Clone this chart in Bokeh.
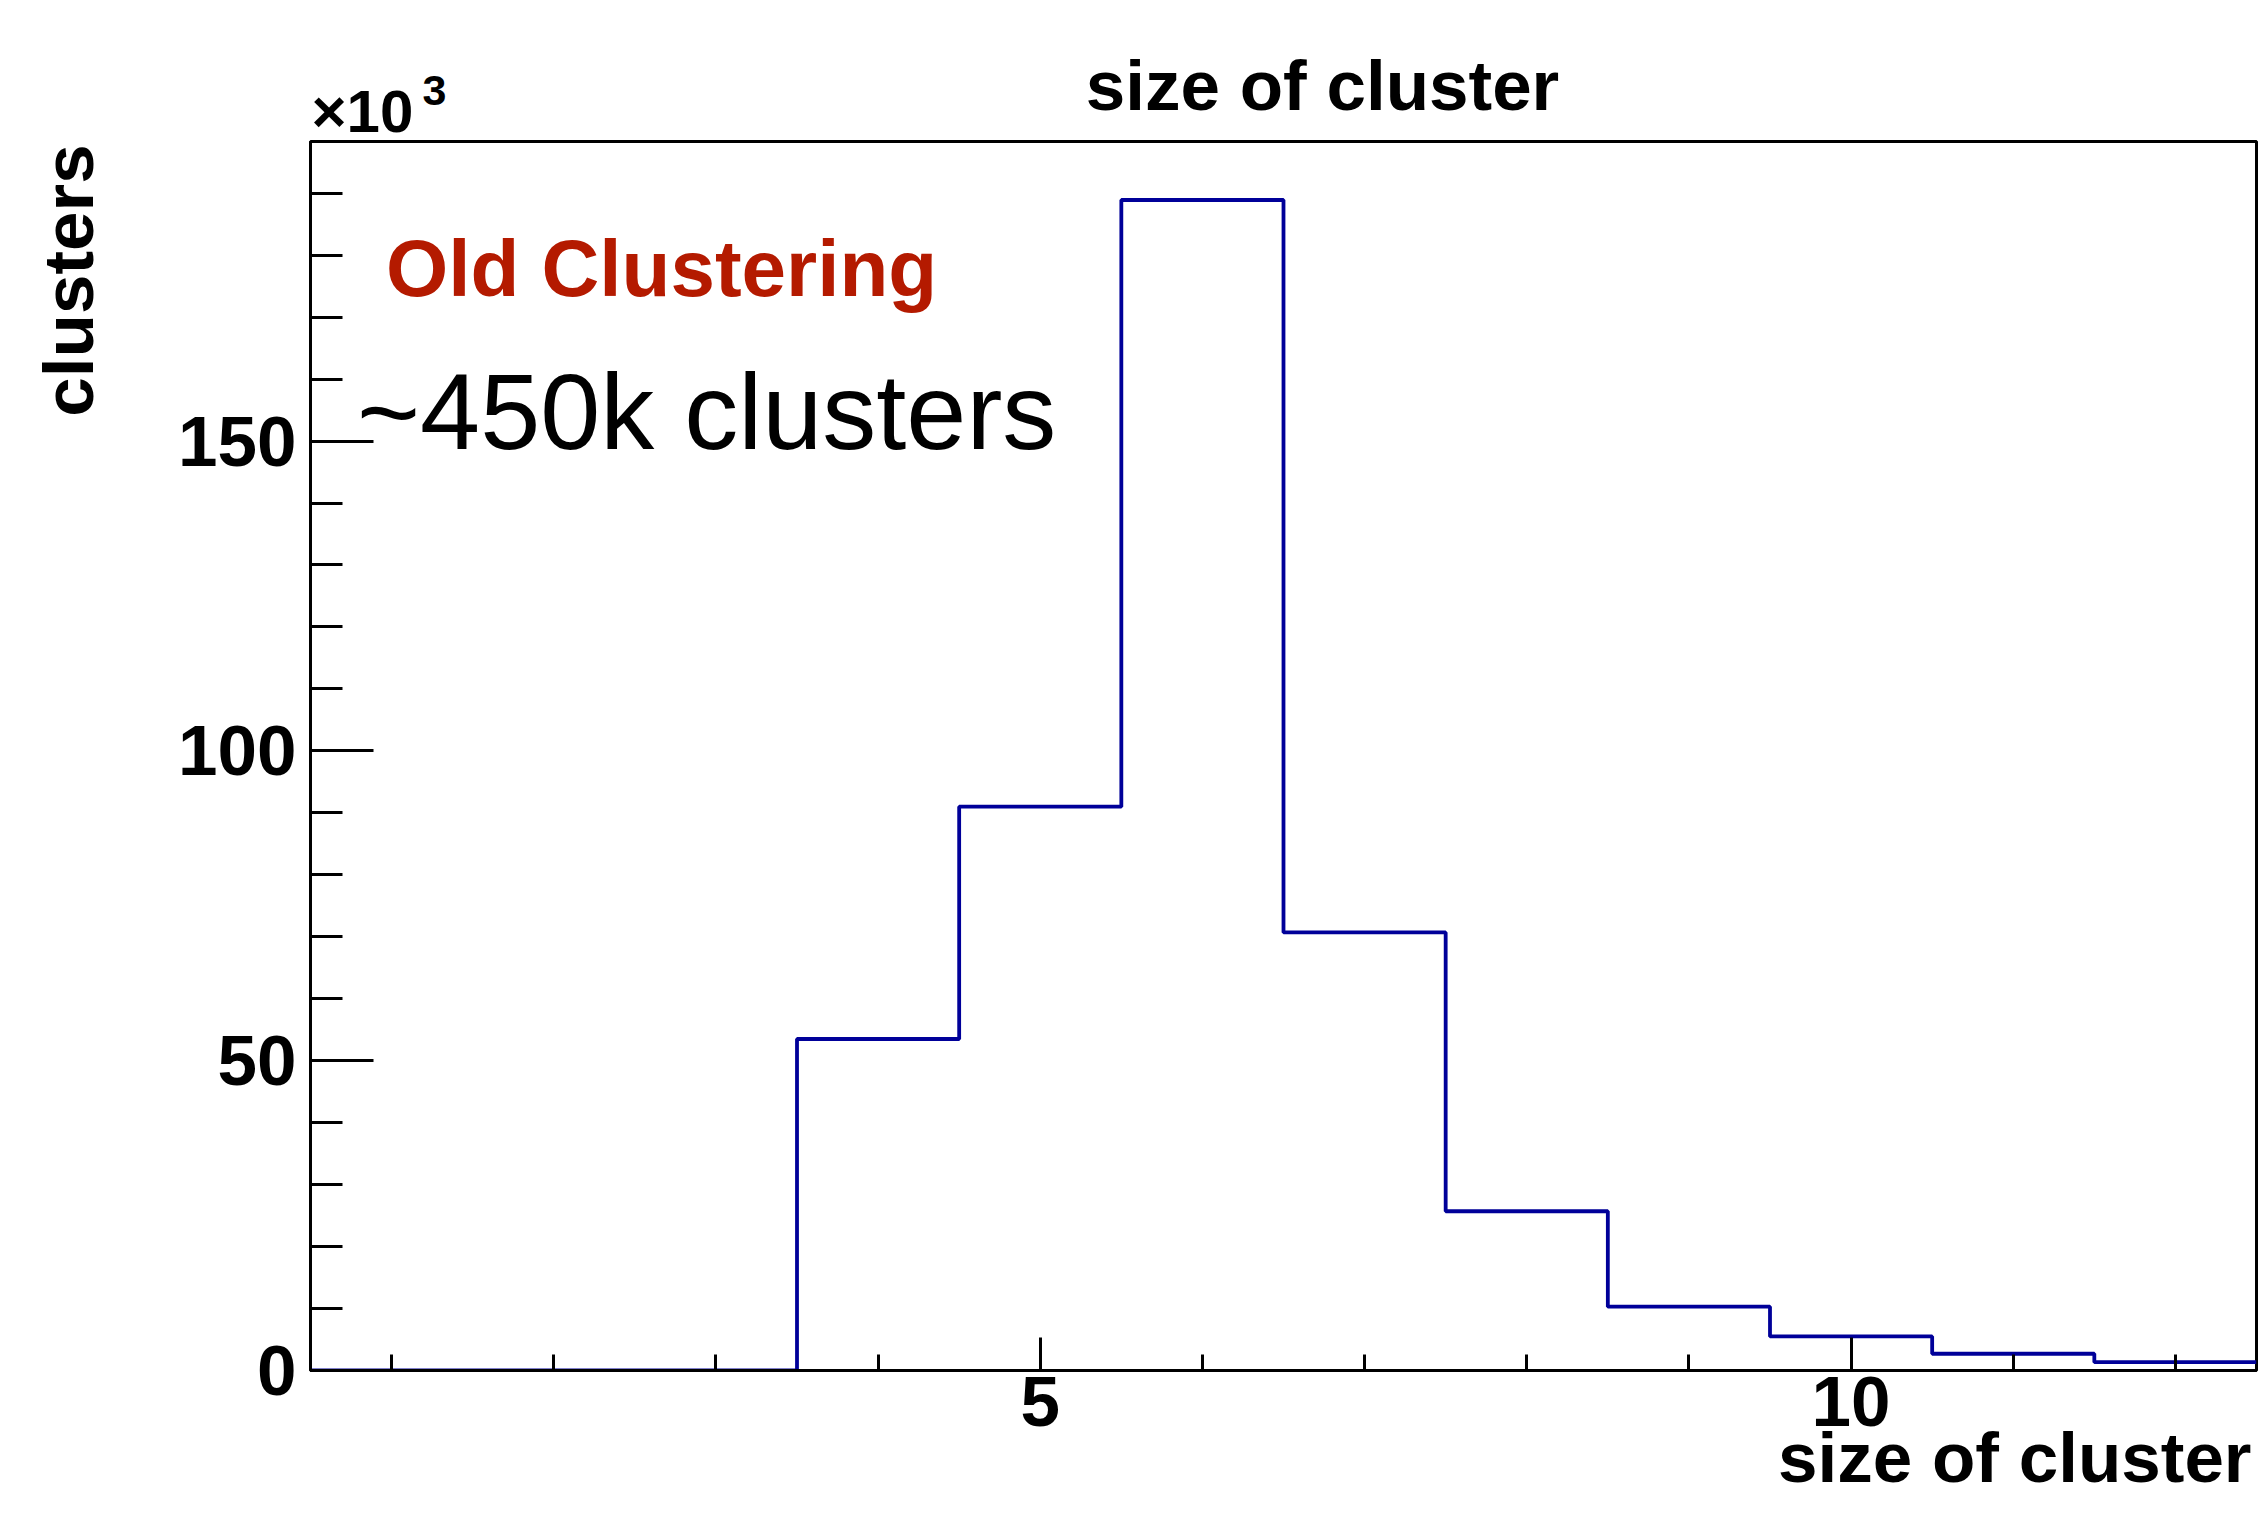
from bokeh.plotting import figure
from bokeh.models import (Range1d, SingleIntervalTicker, FixedTicker, LinearAxis,
                          Legend, LegendItem)
from bokeh.core.properties import value
from bokeh.embed import file_html
from bokeh.resources import INLINE

# Cluster-size histogram (counts in thousands of clusters)
cluster_size = [1, 2, 3, 4, 5, 6, 7, 8, 9, 10, 11, 12]
clusters_k = [0.0, 0.0, 0.0, 53.5, 91.0, 188.9, 70.7, 25.7, 10.3, 5.5, 2.7, 1.35]

title_words = ["size", "of", "cluster"]
x_title_words = ["size", "of", "cluster"]
y_title = "clusters"
tag_text = "Old Clustering"
note_text = "~450k clusters"

FONT = "Liberation Sans"
ASC, DESC = 0.905, 0.212   # font ascent / descent in em
MID = 0.3467               # baseline to em-box centre, in em
# bold advance widths (em) of the words used in the axis titles
WORD_EM = {"size": 1.890, "of": 0.944, "cluster": 3.279, "\u00d710": 1.696, "3": 0.556}
SPACE_EM = 0.278
W, H = 2260, 1527
LEFT, RIGHT, TOP, BOTTOM = 310, 4, 141, 157
FRAME_W = W - LEFT - RIGHT
FRAME_H = H - TOP - BOTTOM

X0, X1 = 0.5, 12.5
Y0, Y1 = 0.0, 1.05 * max(clusters_k)

p = figure(width=W, height=H, output_backend="svg", toolbar_location=None, title=None,
           x_range=Range1d(X0, X1), y_range=Range1d(Y0, Y1),
           min_border_left=LEFT, min_border_right=RIGHT,
           min_border_top=TOP, min_border_bottom=BOTTOM,
           background_fill_color="white", border_fill_color="white")
p.grid.visible = False
p.outline_line_color = "black"
p.outline_line_width = 3
p.outline_line_alpha = 1.0

# outlined histogram drawn as a step line over the bin edges
edges = [c - 0.5 for c in cluster_size] + [cluster_size[-1] + 0.5]
levels = clusters_k + [clusters_k[-1]]
p.step(edges, levels, mode="after", line_color="#000099", line_width=3.8)

# axes: inward ticks in the ROOT style
TICK_FONT = 71
X_STANDOFF = 6
p.xaxis.ticker = SingleIntervalTicker(interval=5, num_minor_ticks=5)
p.yaxis.ticker = SingleIntervalTicker(interval=50, num_minor_ticks=5)
for ax in (p.xaxis[0], p.yaxis[0]):
    ax.axis_line_color = "black"
    ax.axis_line_width = 3
    ax.major_tick_line_width = 3
    ax.minor_tick_line_width = 3
    ax.major_tick_out = 0
    ax.minor_tick_out = 0
    ax.major_label_text_font = FONT
    ax.major_label_text_font_style = "bold"
    ax.major_label_text_font_size = f"{TICK_FONT}px"
    ax.major_label_text_color = "black"
p.xaxis.major_tick_in = 33
p.xaxis.minor_tick_in = 16
p.xaxis.major_label_standoff = X_STANDOFF
p.yaxis.major_tick_in = 63
p.yaxis.minor_tick_in = 32
p.yaxis.major_label_standoff = 14


def x_at(sx):
    return X0 + (sx - LEFT) * (X1 - X0) / FRAME_W


def word_centres(words, left, size):
    # canvas x of the centre of each word of a line starting at `left`
    out, cur = [], left
    for w in words:
        wd = WORD_EM[w] * size
        out.append(cur + wd / 2)
        cur += wd + SPACE_EM * size
    return out


def line_width(words, size):
    return (sum(WORD_EM[w] for w in words) + SPACE_EM * (len(words) - 1)) * size


def label_axis(side, texts, ats, size, standoff, orientation="horizontal", style="bold"):
    # a bare axis whose tick labels carry the given words
    axis = LinearAxis(ticker=FixedTicker(ticks=list(ats), minor_ticks=[]),
                      major_label_overrides=dict(zip(ats, texts)),
                      major_label_orientation=orientation,
                      axis_line_color=None, major_tick_line_color=None,
                      minor_tick_line_color=None, major_tick_out=0, minor_tick_out=0,
                      major_tick_in=0, minor_tick_in=0,
                      major_label_standoff=int(round(standoff)),
                      major_label_text_font=FONT, major_label_text_font_style=style,
                      major_label_text_font_size=f"{size}px",
                      major_label_text_color="black")
    p.add_layout(axis, side)


# y-axis title, rotated, sitting near the top of the axis
y_title_at = Y0 + (FRAME_H - 139) * (Y1 - Y0) / FRAME_H
label_axis("left", [y_title], [y_title_at], 71, 68, orientation="vertical")

# texts above the frame, stacked outwards from the frame's top edge
# (words, left edge, baseline, size) in canvas pixels
TITLE_FONT = 71
title_left = 1322 - line_width(title_words, TITLE_FONT) / 2
above = [(["\u00d710"], 311, 131.7, 60), (["3"], 422, 98.0, 43),
         (title_words, title_left, 96.0, TITLE_FONT)]
edge = TOP
for words, left, base, size in above:
    box_bottom = base + DESC * size
    ats = [x_at(c) for c in word_centres(words, left, size)]
    label_axis("above", words, ats, size, edge - box_bottom)
    edge = box_bottom - (ASC + DESC) * size

# x-axis title, right-aligned under the tick labels
edge = TOP + FRAME_H + X_STANDOFF + (ASC + DESC) * TICK_FONT
xt_size = 71
xt_h = (ASC + DESC) * xt_size
xt_standoff = min((1523 - ASC * xt_size) - edge, H - edge - xt_h - 3)
xt_ats = [x_at(c) for c in word_centres(x_title_words,
                                        2251 - line_width(x_title_words, xt_size),
                                        xt_size)]
label_axis("below", x_title_words, xt_ats, xt_size, xt_standoff)

BOX = 170  # fixed height of each one-line text box inside the frame


def add_text(text, px, py, size, style="bold", color="black"):
    # px: left edge of the text, py: its baseline; pixels from the frame's bottom-left
    item = LegendItem(label=value(text), renderers=[])
    box = Legend(items=[item], location=(px, py + MID * size - BOX / 2),
                 orientation="vertical", padding=0, margin=0, spacing=0,
                 glyph_width=0, glyph_height=1, label_standoff=0, label_height=BOX,
                 label_text_font=FONT, label_text_font_style=style,
                 label_text_font_size=f"{size}px", label_text_color=color,
                 label_text_baseline="middle",
                 border_line_color=None, background_fill_alpha=0)
    p.add_layout(box)


add_text(tag_text, 76, FRAME_H - 156, 80, color="#b41a00")
add_text(note_text, 47, FRAME_H - 308, 108, style="normal")

open("out.html", "w").write(file_html(p, INLINE))
